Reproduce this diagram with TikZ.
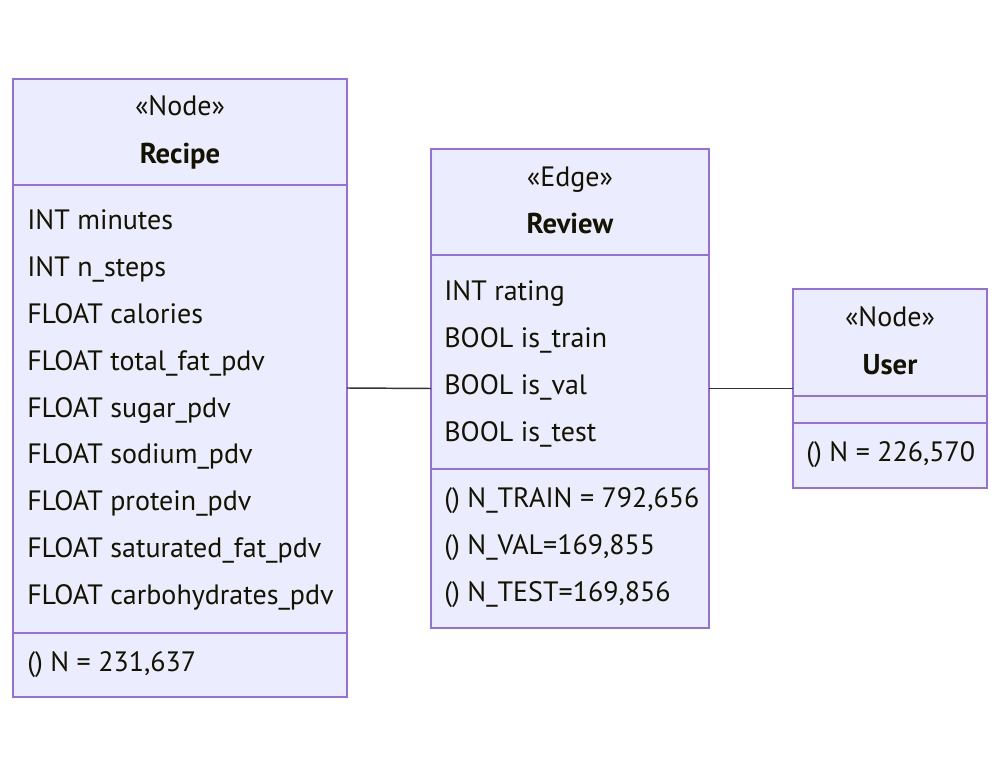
\documentclass[tikz,border=0pt]{standalone}
\usepackage{fontspec}
\setmainfont{PT Sans}
\usetikzlibrary{positioning}
\definecolor{boxfill}{HTML}{ECECFF}
\definecolor{boxline}{HTML}{9370DB}
\definecolor{txtcol}{HTML}{131300}
\definecolor{linkcol}{HTML}{333333}
\tikzset{
classbox/.style={
  draw=boxline, fill=boxfill, line width=1.4pt,
  rectangle, inner sep=0pt, outer sep=0pt, anchor=north west
  },
stereo/.style={
  text=txtcol, font=\fontsize{21}{24}\selectfont, inner sep=0pt,
  anchor=base
  },
cname/.style={
  text=txtcol, font=\fontsize{21.5}{24}\selectfont\bfseries, inner sep=0pt,
  anchor=base
  },
member/.style={
  text=txtcol, font=\fontsize{21}{24}\selectfont, inner sep=0pt,
  anchor=base west
  },
divider/.style={draw=boxline, line width=1.4pt},
link/.style={draw=linkcol, line width=1.1pt}
}

\begin{document}
\begin{tikzpicture}[x=0.75pt,y=-0.75pt]
\useasboundingbox[fill=white] (0,0) rectangle (1000,777);

% Recipe
\node[classbox, minimum width={334*0.75pt}, minimum height={618*0.75pt}]
  (recipe) at (13,79) {};
\node[stereo] (recipe-st) at (180,116) {«Node»};
\node[cname] (recipe-nm) at (180,164) {Recipe};
\draw[divider] (recipe.west |- 0,185) -- (recipe.east |- 0,185);
\foreach \attr [count=\i] in {INT minutes, INT n\_steps, FLOAT calories,
    FLOAT total\_fat\_pdv, FLOAT sugar\_pdv, FLOAT sodium\_pdv,
    FLOAT protein\_pdv, FLOAT saturated\_fat\_pdv,
    FLOAT carbohydrates\_pdv}
  \node[member] (recipe-a\i) at (27,{230+46.75*(\i-1)}) {\attr};
\draw[divider] (recipe.west |- 0,633) -- (recipe.east |- 0,633);
\node[member] (recipe-m1) at (27,671) {() N = 231,637};

% Review
\node[classbox, minimum width={278*0.75pt}, minimum height={479*0.75pt}]
  (review) at (431,149) {};
\node[stereo] (review-st) at (570,187) {«Edge»};
\node[cname] (review-nm) at (570,234) {Review};
\draw[divider] (review.west |- 0,255) -- (review.east |- 0,255);
\foreach \attr [count=\i] in {INT rating, BOOL is\_train, BOOL is\_val,
    BOOL is\_test}
  \node[member] (review-a\i) at (444,{301+46.7*(\i-1)}) {\attr};
\draw[divider] (review.west |- 0,469) -- (review.east |- 0,469);
\foreach \meth [count=\i] in {{() N\_TRAIN = 792,656}, {() N\_VAL=169,855},
    {() N\_TEST=169,856}}
  \node[member] (review-m\i) at (444,{507+47*(\i-1)}) {\meth};

% User
\node[classbox, minimum width={194*0.75pt}, minimum height={199*0.75pt}]
  (user) at (793,289) {};
\node[stereo] (user-st) at (890,327) {«Node»};
\node[cname] (user-nm) at (890,374) {User};
\draw[divider] (user.west |- 0,396) -- (user.east |- 0,396);
\draw[divider] (user.west |- 0,423) -- (user.east |- 0,423);
\node[member] (user-m1) at (806,461) {() N = 226,570};

% links
\draw[link] (recipe.east) -- (review.west);
\draw[link] (review.east) -- (user.west);
\end{tikzpicture}
\end{document}
